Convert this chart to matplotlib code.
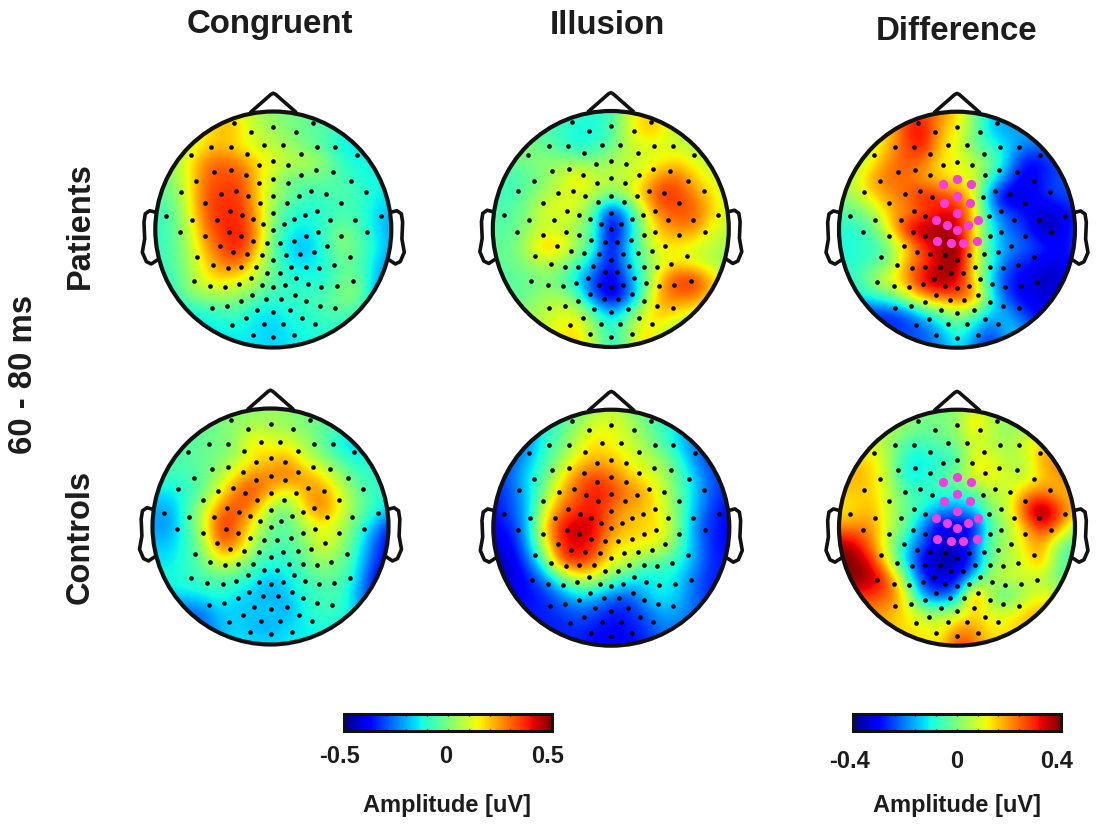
#EEG topographies 60 - 80 ms, patients and controls

import numpy as np
import matplotlib
matplotlib.use('Agg')
import matplotlib.pyplot as plt
from matplotlib.patches import Circle
from matplotlib.cm import ScalarMappable
from matplotlib.colors import Normalize

plt.rcParams['font.family'] = ['Liberation Sans', 'DejaVu Sans']
plt.rcParams['font.weight'] = 'bold'

W, H = 1100, 829
TEXT = '#1c1c1c'

columns = ['Congruent', 'Illusion', 'Difference']
rows = ['Patients', 'Controls']
window = '60 - 80 ms'
unit = 'Amplitude [uV]'

# values, hundredths of uV, 15 x 15 over the head, front row first
congruent_patients = [
    [10,10,10,12,20,12,5,2,0,-3,-5,-5,-8,-8,-8],
    [10,10,10,15,23,18,8,3,0,-3,-5,-8,-10,-10,-10],
    [5,5,8,18,20,15,10,8,3,-2,-6,-15,-15,-12,-12],
    [5,5,15,28,31,28,18,13,8,8,3,-8,-13,-13,-13],
    [0,0,14,31,33,34,20,6,-3,-3,-3,-6,-10,-13,-13],
    [-5,-2,14,33,35,36,20,5,-2,-8,-8,-5,-7,-13,-15],
    [-8,-5,12,33,37,37,24,0,-10,-12,-10,-8,-8,-15,-20],
    [-10,-5,8,29,37,39,26,-2,-12,-15,-8,0,-5,-15,-22],
    [-10,-5,6,24,34,40,24,-5,-18,-20,-10,3,-3,-12,-20],
    [-10,-5,4,18,29,31,12,-3,-15,-15,-12,-3,-5,-15,-25],
    [-12,-8,3,15,18,12,8,-5,-10,-12,-12,-3,0,-18,-27],
    [-15,-10,0,3,3,3,-5,-10,-8,-8,-5,0,3,-20,-27],
    [-15,-15,-15,-12,-8,-8,-15,-15,-12,-10,-7,-5,-10,-22,-25],
    [-15,-15,-15,-15,-14,-13,-15,-18,-13,-12,-10,-12,-15,-20,-25],
    [-15,-15,-15,-15,-15,-15,-15,-17,-15,-13,-13,-15,-15,-20,-25],
]
illusion_patients = [
    [-5,-5,-5,-5,-8,-8,-10,-8,8,18,15,8,5,5,5],
    [-5,-5,-5,-5,-8,-12,-13,-8,10,22,18,8,5,5,5],
    [0,0,0,-3,-8,-14,-10,-5,8,12,12,8,5,3,3],
    [-3,-3,0,2,2,2,0,5,8,10,14,18,12,8,8],
    [-8,-8,-5,0,8,18,10,8,8,16,28,31,18,12,10],
    [-8,-8,-3,5,10,12,8,0,8,24,37,35,27,16,10],
    [-5,-5,0,12,13,12,-5,-38,-18,12,30,33,32,20,10],
    [-5,-5,2,8,8,3,-6,-44,-24,5,22,27,27,12,8],
    [-3,-3,6,22,20,5,-8,-42,-18,3,17,15,12,8,5],
    [-3,-3,2,8,5,-5,-18,-40,-18,-3,10,15,10,5,3],
    [-5,-5,-3,0,-3,-16,-32,-42,-28,-5,22,37,37,22,8],
    [-3,-3,-3,3,5,-5,-30,-45,-32,-3,26,30,30,18,8],
    [0,0,3,8,12,12,-5,-20,-8,12,22,15,12,8,5],
    [5,5,5,8,15,18,5,-12,2,18,10,5,3,3,3],
    [5,5,5,8,15,20,8,-13,0,22,12,5,3,3,3],
]
difference_patients = [
    [8,8,8,12,28,26,22,14,0,-14,-15,-15,-15,-15,-15],
    [8,8,8,15,30,33,18,12,0,-15,-18,-16,-15,-15,-15],
    [3,3,8,18,27,33,15,10,-3,-8,-13,-20,-20,-20,-20],
    [3,5,12,22,26,23,12,12,6,0,-15,-30,-30,-24,-22],
    [6,8,20,24,24,18,15,10,10,-8,-22,-34,-28,-24,-24],
    [0,6,15,20,24,32,28,24,12,-24,-36,-34,-28,-24,-24],
    [-5,-2,3,18,20,26,32,34,14,-15,-25,-28,-36,-33,-27],
    [-10,-8,-3,12,34,38,38,36,14,-10,-22,-26,-36,-37,-24],
    [-10,-8,-8,0,14,30,36,42,14,-10,-18,-22,-26,-30,-26],
    [-10,-8,-5,0,20,26,36,40,12,-8,-24,-28,-32,-34,-28],
    [-8,-6,4,12,20,36,40,34,14,-16,-28,-32,-36,-35,-28],
    [-12,-12,-8,-4,8,20,24,27,24,-8,-26,-32,-34,-32,-30],
    [-28,-28,-28,-28,-24,-12,-4,4,-4,-14,-16,-26,-32,-30,-30],
    [-26,-26,-26,-26,-26,-24,-16,-6,-14,-26,-12,-18,-26,-26,-26],
    [-22,-22,-22,-22,-22,-22,-20,-10,-22,-28,-18,-18,-22,-22,-22],
]
congruent_controls = [
    [-5,-5,-5,-3,-2,0,3,3,3,0,-3,-5,-8,-8,-8],
    [-5,-5,-5,-3,0,3,5,5,3,0,-3,-6,-10,-10,-10],
    [-5,-5,-5,-3,-1,3,18,12,12,5,-3,-13,-20,-15,-15],
    [-5,-5,-5,-3,0,5,16,18,24,10,3,-5,-12,-12,-12],
    [-8,-8,-8,-3,6,19,27,28,30,25,17,5,-5,-10,-10],
    [-15,-15,-10,-3,14,30,35,22,10,22,28,14,0,-8,-12],
    [-20,-22,-8,8,28,35,24,3,-3,17,30,16,2,-8,-15],
    [-22,-24,-8,8,39,30,12,-2,-5,5,15,8,-3,-18,-35],
    [-18,-18,-10,3,32,28,6,-5,-6,0,14,8,-7,-25,-40],
    [-15,-15,-10,-2,15,10,-4,-10,-10,-3,5,0,-10,-28,-40],
    [-12,-12,-10,-6,-4,-6,-12,-18,-14,-8,-3,-3,-12,-35,-45],
    [-14,-14,-14,-12,-10,-15,-18,-22,-18,-10,-8,-6,-18,-35,-40],
    [-30,-30,-28,-26,-16,-18,-18,-15,-22,-12,-8,-8,-15,-30,-35],
    [-30,-30,-30,-28,-20,-15,-20,-22,-15,-14,-12,-12,-18,-20,-20],
    [-25,-25,-25,-25,-20,-15,-15,-15,-14,-14,-14,-14,-15,-15,-15],
]
illusion_controls = [
    [-30,-30,-28,-20,-8,-2,5,8,3,-5,-12,-15,-20,-28,-30],
    [-30,-30,-25,-12,-5,3,12,14,8,0,-8,-15,-20,-28,-30],
    [-35,-30,-25,-10,-3,10,18,14,10,3,-5,-18,-26,-30,-32],
    [-35,-30,-20,-8,3,16,22,20,14,8,3,-8,-25,-33,-35],
    [-32,-28,-15,-5,14,29,35,30,20,14,8,-5,-18,-30,-33],
    [-35,-30,-18,0,22,32,40,36,28,24,10,-3,-18,-30,-35],
    [-38,-30,-20,10,30,36,40,28,22,20,14,-3,-20,-33,-38],
    [-38,-35,-20,18,40,46,42,27,20,18,16,0,-25,-35,-38],
    [-42,-40,-22,10,38,42,38,17,16,16,12,-5,-22,-35,-38],
    [-45,-42,-30,-5,34,40,30,14,10,-2,-5,-10,-22,-35,-35],
    [-45,-45,-36,-25,-5,12,10,-2,-10,-16,-12,-15,-28,-35,-35],
    [-38,-38,-38,-34,-25,-15,-18,-25,-30,-18,-12,-18,-28,-35,-35],
    [-35,-35,-35,-35,-32,-28,-30,-36,-35,-28,-20,-22,-28,-30,-30],
    [-35,-35,-35,-35,-35,-33,-36,-38,-36,-33,-25,-25,-30,-30,-30],
    [-35,-35,-35,-35,-35,-35,-38,-40,-38,-35,-28,-28,-30,-30,-30],
]
difference_controls = [
    [5,5,5,5,2,0,0,0,12,3,0,0,-2,-2,-2],
    [6,6,6,5,3,-2,0,2,16,6,2,3,5,5,5],
    [10,10,8,3,-6,-6,-3,0,8,5,3,10,14,14,14],
    [15,15,14,3,-10,-12,-8,-8,14,10,5,5,20,22,22],
    [18,18,15,4,-12,-10,-4,2,10,12,8,5,14,20,22],
    [15,15,15,6,-4,-6,-8,-8,-4,6,6,20,24,16,16],
    [12,14,18,6,-2,-10,-18,-20,-16,2,6,30,44,30,16],
    [20,22,20,6,-2,-22,-34,-34,-32,-4,4,16,32,22,2],
    [38,34,20,4,-14,-24,-34,-34,-22,0,4,14,20,0,-5],
    [40,40,30,6,-14,-34,-38,-38,-26,0,4,10,20,-3,-6],
    [40,40,38,24,-4,-28,-34,-30,-12,6,8,8,5,-2,-5],
    [30,30,28,26,10,-22,-26,-20,28,0,-6,4,10,8,6],
    [22,22,20,18,12,4,2,6,14,8,8,16,18,18,18],
    [18,18,18,16,14,12,10,20,20,12,14,16,18,18,18],
    [14,14,14,14,14,14,12,30,24,14,14,14,14,14,14],
]

# electrodes, read in a crop where the head is centred on (430, 422) with radius 353
elec_x = [313,430,549,364,498,245,302,403,459,560,616,183,350,512,679,387,430,474,
          254,304,348,513,557,608,200,388,430,473,661,153,273,318,354,430,507,543,589,708,
          227,391,470,634,300,430,561,110,186,261,335,368,400,462,493,526,600,675,752,
          150,227,297,334,430,528,563,634,711,370,412,449,491,270,592,
          310,350,395,467,511,552,203,659,430,250,294,333,378,484,528,568,611,
          412,449,362,499,192,241,287,327,395,430,466,534,574,620,669,
          367,494,409,452,333,528,246,292,381,480,569,615,430,347,515,
          307,402,459,554,368,430,493]
elec_y = [103,115,103,130,130,175,175,170,170,175,175,200,195,195,200,229,218,229,
          249,244,259,259,244,249,277,284,270,284,277,309,315,307,323,322,323,307,315,309,
          343,342,342,343,367,373,367,381,394,394,380,392,407,407,392,380,394,394,381,
          430,441,430,441,423,441,430,441,430,455,461,461,455,472,472,
          488,495,498,498,495,488,504,504,514,527,537,535,534,534,535,537,527,
          552,552,568,568,577,590,593,585,589,595,589,585,593,590,577,
          617,617,631,631,637,637,657,651,662,662,651,657,670,688,688,
          708,705,705,705,737,745,737]
# the electrodes picked out in the difference maps
sel_x = [388,430,473,430,391,470,430,368,400,462,493,430,370,412,449,491]
sel_y = [284,270,284,322,342,342,373,392,407,407,392,423,455,461,461,455]

# head centres and radius in pixels of the figure
head_cx = [[273.3, 610.8, 957.0], [270.5, 611.3, 957.0]]
head_cy = [[230.5, 230.0, 230.7], [527.5, 528.7, 528.7]]
radius = 118

# head outline in head radii
nose_x = [-0.185, -0.02, 0, 0.02, 0.185]
nose_y = [1.0, 1.145, 1.155, 1.145, 1.0]
ear_x = [1.0, 1.048, 1.085, 1.096, 1.09, 1.11, 1.076, 1.034, 0.99]
ear_y = [0.147, 0.159, 0.133, 0.062, -0.079, -0.193, -0.272, -0.292, -0.263]


def topo(row, col, grid, vmax, marked):
    cx, cy = head_cx[row][col], head_cy[row][col]
    pad = 1.35 * radius
    ax = fig.add_axes([(cx - pad) / W, 1 - (cy + pad) / H, 2 * pad / W, 2 * pad / H])
    step = 1 / 14
    im = ax.imshow(np.array(grid) / 100, cmap='jet', vmin=-vmax, vmax=vmax,
                   extent=(-1 - step, 1 + step, -1 - step, 1 + step), origin='upper',
                   interpolation='bicubic')
    im.set_clip_path(Circle((0, 0), 1, transform=ax.transData))
    ax.add_patch(Circle((0, 0), 1, fill=False, ec='#111111', lw=3, zorder=3))
    ax.plot(nose_x, nose_y, color='#111111', lw=2.6, zorder=2)
    for side in (-1, 1):
        ax.plot(side * np.array(ear_x), ear_y, color='#111111', lw=2.6, zorder=2)
    ex = (np.array(elec_x) - 430) / 353
    ey = (422 - np.array(elec_y)) / 353
    ax.scatter(ex, ey, s=11, color='black', lw=0, zorder=4)
    if marked:
        sx = (np.array(sel_x) - 430) / 353
        sy = (422 - np.array(sel_y)) / 353
        ax.scatter(sx, sy, s=44, color='#f23ee0', lw=0, zorder=5)
    ax.set_xlim(-1.35, 1.35)
    ax.set_ylim(-1.35, 1.35)
    ax.axis('off')


def bar(x0, x1, vmax, labels, label_x, label_y):
    cax = fig.add_axes([x0 / W, 1 - 732 / H, (x1 - x0) / W, 17.5 / H])
    sm = ScalarMappable(norm=Normalize(-vmax, vmax), cmap='jet')
    cb = fig.colorbar(sm, cax=cax, orientation='horizontal')
    cb.outline.set_linewidth(2.2)
    cb.outline.set_edgecolor('#111111')
    cb.set_ticks([])
    cax.set_xticks(np.linspace(-vmax, vmax, 11), minor=True)
    cax.tick_params(axis='x', which='minor', direction='in', length=1.5, width=1,
                    top=True, bottom=True, color='#111111')
    for name, x in zip(labels, label_x):
        fig.text(x / W, 1 - label_y / H, name, ha='center', va='center', fontsize=17, color=TEXT)


fig = plt.figure(figsize=(W / 100, H / 100), dpi=100, facecolor='white')

topo(0, 0, congruent_patients, 0.5, False)
topo(0, 1, illusion_patients, 0.5, False)
topo(0, 2, difference_patients, 0.4, True)
topo(1, 0, congruent_controls, 0.5, False)
topo(1, 1, illusion_controls, 0.5, False)
topo(1, 2, difference_controls, 0.4, True)

bar(344, 552, 0.5, ['-0.5', '0', '0.5'], [340, 446, 548], 757)
bar(853, 1060.5, 0.4, ['-0.4', '0', '0.4'], [849, 957, 1057], 762)

for name, x, y in zip(columns, [270, 607, 957], [25, 25, 31]):
    fig.text(x / W, 1 - y / H, name, ha='center', va='center', fontsize=23.8, color=TEXT)
for name, x, y in zip(rows, [80, 80], [226, 537]):
    fig.text(x / W, 1 - y / H, name, ha='center', va='center', rotation=90, fontsize=23.5, color=TEXT)
fig.text(24 / W, 1 - 374 / H, window, ha='center', va='center', rotation=90, fontsize=23.7, color=TEXT)
for x in (447, 957):
    fig.text(x / W, 1 - 806 / H, unit, ha='center', va='center', fontsize=17, color=TEXT)

fig.savefig('out.png', dpi=100)
